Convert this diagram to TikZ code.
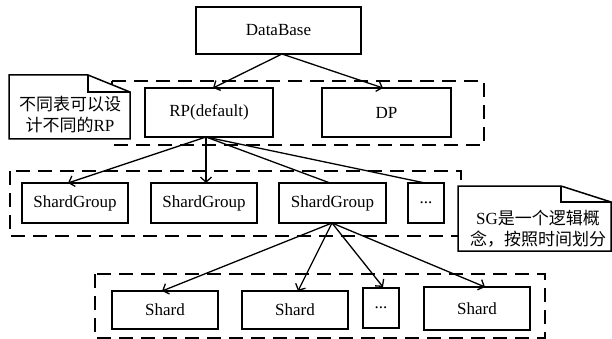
\documentclass[tikz,border=0pt]{standalone}
\usepackage{fontspec}
\setmainfont{Liberation Serif}
\newfontfamily\cjk{Noto Sans CJK SC}
\usetikzlibrary{arrows.meta}
\begin{document}
\begin{tikzpicture}[x=1pt,y=-1pt,
  box/.style={draw,line width=1.5pt,minimum width=#1,inner sep=0pt,font=\fontsize{17}{20}\selectfont},
  grp/.style={draw,line width=1.5pt,dash pattern=on 14pt off 8pt},
  arr/.style={line width=1.3pt,-{Straight Barb[length=5pt,width=11pt]}},
  ln/.style={line width=1.3pt},
  note/.style={draw,line width=1.5pt,fill=white},
  notetext/.style={font=\fontsize{17}{20}\selectfont,inner sep=0pt}]
\useasboundingbox (0,0) rectangle (612,339);
% dashed groups
\draw[grp] (112,81) rectangle (484,145);
\draw[grp] (10,171) rectangle (461,236);
\draw[grp] (95,274) rectangle (545,338);
% nodes
\node[box=165pt,minimum height=47pt] (db) at (278.5,30.5) {DataBase};
\node[box=128pt,minimum height=49pt] (rp) at (209,112.5) {RP(default)};
\node[box=129pt,minimum height=49pt] (dp) at (386.5,112.5) {DP};
\node[box=106pt,minimum height=40pt] (sg1) at (75,203) {ShardGroup};
\node[box=106pt,minimum height=40pt] (sg2) at (204,203) {ShardGroup};
\node[box=107pt,minimum height=40pt] (sg3) at (332.5,203) {ShardGroup};
\node[box=36pt,minimum height=40pt] (sgd) at (426,203) {...};
\node[box=106pt,minimum height=38pt] (s1) at (165,310) {Shard};
\node[box=106pt,minimum height=38pt] (s2) at (295,310) {Shard};
\node[box=36pt,minimum height=40pt] (sd) at (381,308) {...};
\node[box=106pt,minimum height=43pt] (s4) at (477,308.5) {Shard};
% connectors
\coordinate (dbs) at (282,54);
\coordinate (rps) at (206,137);
\coordinate (sgs) at (332,223);
\coordinate (rpin) at (213,88);
\coordinate (dpin) at (383,88);
\coordinate (sg1in) at (68,183);
\coordinate (sg2in) at (206,183);
\coordinate (sg3in) at (330,183);
\coordinate (sgdin) at (425,183);
\coordinate (s1in) at (162,291);
\coordinate (s2in) at (298,291);
\coordinate (sdin) at (383,287);
\coordinate (s4in) at (485,287);
\draw[arr] (dbs) -- (rpin);
\draw[arr] (dbs) -- (dpin);
\draw[arr] (rps) -- (sg1in);
\draw[arr] (rps) -- (sg2in);
\draw[ln] (rps) -- (sg3in);
\draw[ln] (rps) -- (sgdin);
\draw[arr] (sgs) -- (s1in);
\draw[arr] (sgs) -- (s2in);
\draw[arr] (sgs) -- (sdin);
\draw[arr] (sgs) -- (s4in);
% notes
\draw[note] (9,75) -- (88,75) -- (130,92) -- (130,139) -- (9,139) -- cycle;
\draw[line width=1.5pt] (88,75) -- (88,92) -- (130,92);
\node[notetext] (n1a) at (70,104) {{\cjk 不同表可以设}};
\node[notetext] (n1b) at (70,125) {{\cjk 计不同的}RP};
\draw[note] (458,186) -- (561,186) -- (611,202) -- (611,251) -- (458,251) -- cycle;
\draw[line width=1.5pt] (561,186) -- (561,202) -- (611,202);
\node[notetext] (n2a) at (538,218) {SG{\cjk 是一个逻辑概}};
\node[notetext] (n2b) at (538,239) {{\cjk 念，按照时间划分}};
\end{tikzpicture}
\end{document}
